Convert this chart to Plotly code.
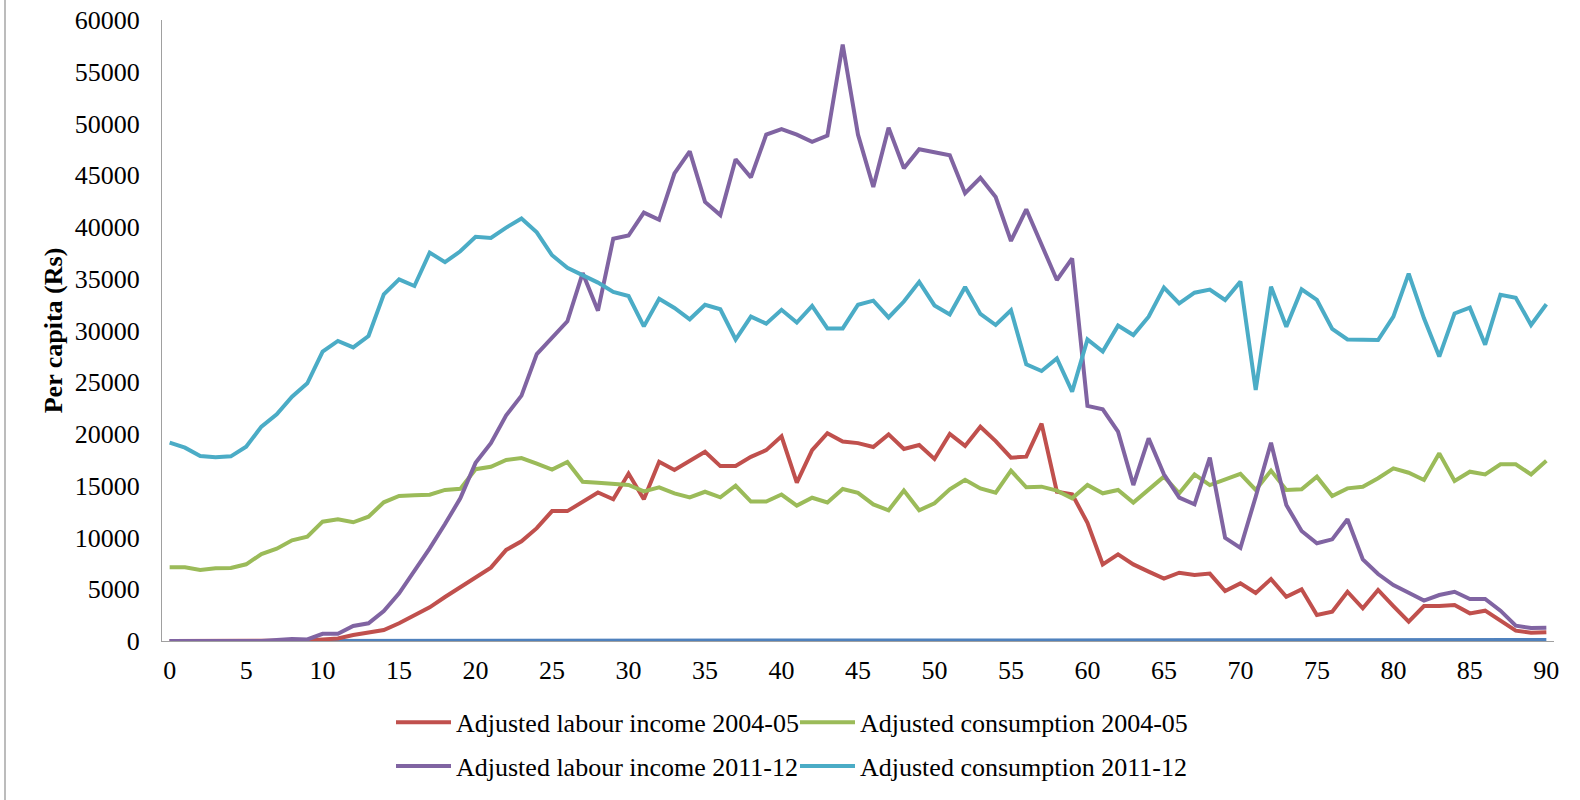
import plotly.graph_objects as go

ages = list(range(0, 91))

labour_2004 = [0, 0, 0, 0, 0, 0, 0, 0, 0, 50, 150, 250, 580, 840, 1060, 1710, 2510, 3250, 4250, 5180,
               6210, 7090, 8800, 9640, 10900, 12550, 12550, 13470, 14350, 13700, 16180, 13700, 17320, 16520, 17400, 18280,
               16900, 16910, 17790, 18440, 19770, 15300, 18440, 20080, 19280, 19120, 18740, 19960, 18550, 18940,
               17590, 20000, 18850, 20700, 19320, 17710, 17810, 21000, 14430, 14170, 11430, 7400, 8370, 7400, 6700,
               6020, 6600, 6380, 6510, 4830, 5570, 4640, 5990, 4280, 4990, 2510, 2830, 4760, 3160, 4930, 3380, 1870,
               3380, 3380, 3480, 2670, 2930, 1960, 1000, 800, 850]

consumption_2004 = [7120, 7120, 6860, 7020, 7050, 7410, 8400, 8920, 9730, 10080, 11530, 11760, 11470, 12010, 13400,
                    14010, 14080, 14140, 14600, 14700, 16600, 16830, 17490, 17680, 17140, 16560, 17290, 15380, 15300,
                    15150, 15080, 14460, 14840, 14270, 13880, 14420, 13880, 15000, 13470, 13470, 14150, 13080, 13840,
                    13390, 14690, 14310, 13200, 12630, 14540, 12630, 13310, 14650, 15570, 14740, 14330, 16460, 14850,
                    14910, 14530, 13790, 15070, 14270, 14590, 13370, 14590, 15880, 14270, 16100, 15070, 15560, 16150,
                    14600, 16460, 14590, 14650, 15880, 14010, 14750, 14910, 15720, 16680, 16260, 15560, 18130, 15460,
                    16360, 16100, 17070, 17070, 16100, 17420]

labour_2011 = [0, 0, 0, 0, 0, 0, 0, 100, 200, 150, 700, 700, 1450, 1710, 2900, 4600, 6700, 8950, 11300, 13780,
               17210, 19120, 21800, 23710, 27720, 29250, 30890, 35550, 31920, 38870, 39180, 41390, 40700, 45180, 47310,
               42420, 41150, 46550, 44790, 48920, 49460, 48920, 48230, 48840, 57630, 48920, 43870, 49600, 45670, 47510,
               47270, 46940, 43270, 44750, 42900, 38650, 41710, 38200, 34880, 36970, 22710, 22390, 20230, 15070, 19580,
               16110, 13850, 13200, 17710, 9960, 8990, 13940, 19160, 13140, 10630, 9440, 9820, 11760, 7890, 6470, 5410,
               4670, 3900, 4440, 4760, 4060, 4060, 2930, 1480, 1260, 1290]

consumption_2011 = [19160, 18680, 17870, 17750, 17840, 18780, 20710, 21900, 23610, 24900, 27960, 28990, 28370, 29470,
                    33500, 34940, 34300, 37520, 36600, 37650, 39060, 38950, 39940, 40820, 39490, 37270, 36050, 35360,
                    34630, 33720, 33330, 30400, 33060, 32180, 31080, 32490, 32050, 29130, 31340, 30660, 32000, 30770,
                    32380, 30200, 30200, 32490, 32880, 31260, 32800, 34700, 32420, 31540, 34210, 31600, 30530, 31950,
                    26730, 26090, 27310, 24090, 29140, 27960, 30470, 29560, 31330, 34150, 32610, 33650, 33960, 32950,
                    34720, 24250, 34230, 30370, 33970, 32950, 30150, 29140, 29080, 29080, 31340, 35490, 31180, 27480,
                    31650, 32210, 28630, 33460, 33170, 30530, 32530]

age_series = ages  # the plotted "Age" series (sits on the axis)

xticks = list(range(0, 91, 5))
yticks = list(range(0, 60001, 5000))

FONT = "Liberation Serif"
FS = 26

fig = go.Figure()
fig.add_trace(go.Scatter(x=ages, y=age_series, mode="lines", name="Age",
                         line=dict(color="#4F81BD", width=4), showlegend=False))
fig.add_trace(go.Scatter(x=ages, y=labour_2004, mode="lines", name="Adjusted labour income 2004-05",
                         line=dict(color="#C0504D", width=4), legend="legend", legendgroup="a"))
fig.add_trace(go.Scatter(x=ages, y=consumption_2004, mode="lines", name="Adjusted consumption 2004-05",
                         line=dict(color="#9BBB59", width=4), legend="legend2", legendgroup="b"))
fig.add_trace(go.Scatter(x=ages, y=labour_2011, mode="lines", name="Adjusted labour income 2011-12",
                         line=dict(color="#8064A2", width=4), legend="legend", legendgroup="c"))
fig.add_trace(go.Scatter(x=ages, y=consumption_2011, mode="lines", name="Adjusted consumption 2011-12",
                         line=dict(color="#4BACC6", width=4), legend="legend2", legendgroup="d"))

legend_common = dict(orientation="v", yanchor="top", xanchor="left", y=-0.093,
                     font=dict(family=FONT, size=FS, color="#000000"),
                     bgcolor="rgba(0,0,0,0)", tracegroupgap=7, itemwidth=55)

PL = 162   # left margin
PW = 1392  # plot width

fig.update_layout(
    width=1580, height=800,
    margin=dict(l=PL, r=26, t=20, b=159, autoexpand=False),
    paper_bgcolor="white", plot_bgcolor="white",
    font=dict(family=FONT, size=FS, color="#000000"),
    legend=dict(x=(391 - 162) / PW, **legend_common),
    legend2=dict(x=(795 - 162) / PW, **legend_common),
    xaxis=dict(range=[-0.5, 90.5], tickvals=xticks, ticktext=[str(t) for t in xticks],
               showgrid=False, zeroline=False, showline=True, linecolor="#A0A0A0", linewidth=1,
               ticks="outside", ticklen=6, tickcolor="rgba(0,0,0,0)", automargin=False,
               ticklabeloverflow="allow",
               tickfont=dict(family=FONT, size=FS, color="#000000")),
    yaxis=dict(range=[0, 60000], tickvals=yticks, ticktext=[str(t) for t in yticks],
               showgrid=False, zeroline=False, showline=True, linecolor="#A0A0A0", linewidth=1,
               ticks="outside", ticklen=16, tickcolor="rgba(0,0,0,0)", automargin=False,
               ticklabeloverflow="allow",
               tickfont=dict(family=FONT, size=FS, color="#000000"),
               title=dict(text="<b>Per capita (Rs)</b>", standoff=4,
                          font=dict(family=FONT, size=FS, color="#000000"))),
    shapes=[dict(type="line", xref="paper", yref="paper",
                 x0=(5 - PL) / PW, x1=(5 - PL) / PW, y0=-0.3, y1=1.1,
                 line=dict(color="#A6A6A6", width=1.5))],
)

fig.write_html("out.html", config={"displayModeBar": False},
               post_script="document.body.style.margin='0';")
